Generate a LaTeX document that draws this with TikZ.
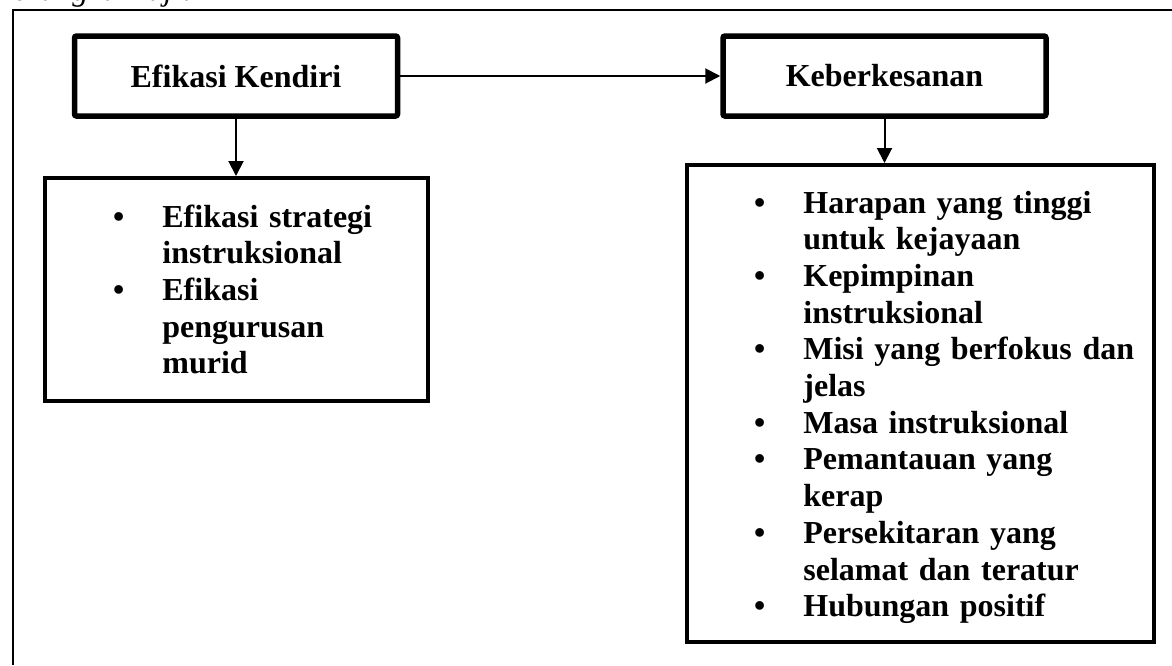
\documentclass[tikz,border=0pt]{standalone}
\usepackage{fontspec}
\setmainfont{Liberation Serif}
\usetikzlibrary{arrows.meta}
\newcommand\lbul{\leavevmode\llap{\textbullet\hspace{19pt}}}

\begin{document}
\begin{tikzpicture}[x=0.5pt, y=-0.5pt,
  head node/.style={draw, line width=2.75pt, rounded corners=1pt, inner sep=0pt, minimum width=161.5pt, minimum height=40pt, font=\fontsize{16pt}{18.35pt}\selectfont\bfseries},
  list box/.style={draw, line width=2pt, inner sep=0pt},
  list node/.style={anchor=base west, inner sep=0pt, text width=180pt, align=left, font=\fontsize{16pt}{18.35pt}\selectfont\bfseries},
  link/.style={-{Triangle[length=7.5pt, width=7.5pt]}, line width=1pt}]
  \useasboundingbox (0,0) rectangle (1172,665);
  \begin{scope}
    \clip (0,0) rectangle (1172,665);
    \node[anchor=base west, inner sep=0pt, font=\fontsize{16pt}{18.35pt}\selectfont\itshape] (t0) at (-8,0.5) {Kerangka Kajian};
  \end{scope}
  \draw[line width=1pt] (13,665) -- (13,10) -- (1172,10);

  \node[head node] (n0) at (236,76) {Efikasi Kendiri};
  \node[head node] (n1) at (884.5,76) {Keberkesanan};
  \node[list box, minimum width=191.5pt, minimum height=111.5pt] (b0) at (236,289.5) {};
  \node[list box, minimum width=233.5pt, minimum height=238.5pt] (b1) at (920.5,403.5) {};

  \node[list node] (m0) at (162,227) {\lbul Efikasi strategi\\ instruksional\\ \lbul Efikasi\\ pengurusan\\ murid};
  \node[list node] (m1) at (803,213) {\lbul Harapan yang tinggi\\ untuk kejayaan\\ \lbul Kepimpinan\\ instruksional\\ \lbul Misi yang berfokus dan\\ jelas\\ \lbul Masa instruksional\\ \lbul Pemantauan yang\\ kerap\\ \lbul Persekitaran yang\\ selamat dan teratur\\ \lbul Hubungan positif};

  \path[link] (n0) edge (n1);
  \path[link] (n0) edge (b0);
  \path[link] (n1.south) edge (n1.south |- b1.north);

\end{tikzpicture}
\end{document}
